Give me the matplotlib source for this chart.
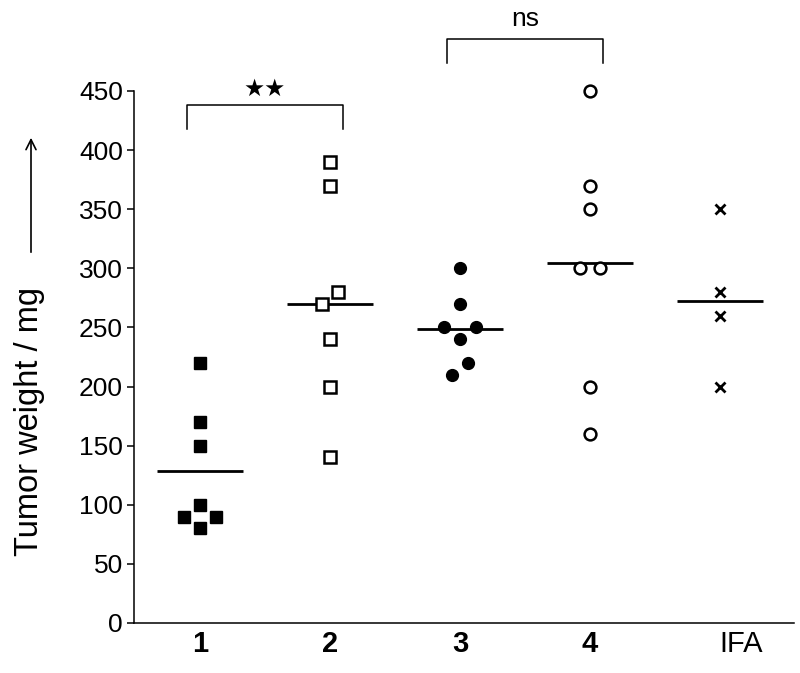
import numpy as np
import matplotlib.pyplot as plt
from matplotlib.patches import FancyArrowPatch
from matplotlib.transforms import ScaledTranslation

plt.rcParams['font.family'] = ['Liberation Sans', 'DejaVu Sans']

# data
groups = ['1', '2', '3', '4', 'IFA']
weights_1 = [220, 170, 150, 100, 90, 90, 80]
weights_2 = [390, 370, 280, 270, 240, 200, 140]
weights_3 = [300, 270, 250, 250, 240, 220, 210]
weights_4 = [450, 370, 350, 300, 300, 200, 160]
weights_ifa = [350, 280, 260, 200]
yticks = list(range(0, 451, 50))
# (left group, right group, label, bracket level in mg)
comparisons = [(0, 1, '★★', 438), (2, 3, 'ns', 494)]

all_weights = [weights_1, weights_2, weights_3, weights_4, weights_ifa]
styles = [
    dict(marker='s', ms=8, mfc='black', mec='black', mew=1),
    dict(marker='s', ms=8.5, mfc='white', mec='black', mew=1.8),
    dict(marker='o', ms=8.5, mfc='black', mec='black', mew=1),
    dict(marker='o', ms=8.5, mfc='white', mec='black', mew=1.8),
    dict(marker='x', ms=7.5, mfc='none', mec='black', mew=2),
]


def swarm(ax, pos, values, dist=20.0):
    """Beeswarm offsets in pixel space, lowest value first, clusters re-centred."""
    pts = ax.transData.transform(np.column_stack([np.full(len(values), pos), values]))
    x0 = pts[0, 0]
    ys = pts[:, 1]
    offs = np.zeros(len(values))
    placed = []
    for i in np.argsort(values, kind='stable'):
        cands = [0.0]
        for j in placed:
            dy = abs(ys[j] - ys[i])
            if dy < dist:
                dx = np.sqrt(dist ** 2 - dy ** 2)
                cands += [offs[j] + dx, offs[j] - dx]
        cands.sort(key=lambda c: (round(abs(c), 6), -c))
        for c in cands:
            if all(np.hypot(c - offs[j], ys[i] - ys[j]) >= dist - 1e-6 for j in placed):
                break
        offs[i] = c
        placed.append(i)

    # group touching points and centre each group on the column
    labels = list(range(len(values)))

    def find(a):
        while labels[a] != a:
            a = labels[a]
        return a

    for a in range(len(values)):
        for b in range(a + 1, len(values)):
            if np.hypot(offs[a] - offs[b], ys[a] - ys[b]) <= dist + 0.5:
                labels[find(a)] = find(b)
    roots = np.array([find(a) for a in range(len(values))])
    for r in set(roots):
        m = roots == r
        offs[m] -= offs[m].mean()

    back = ax.transData.inverted().transform(np.column_stack([x0 + offs, ys]))
    return back[:, 0]


fig = plt.figure(figsize=(8.0, 6.73), dpi=100)
ax = fig.add_axes([0.1675, 0.0743, 0.825, 0.7905])
ax.set_xlim(-0.508, 4.57)
ax.set_ylim(0, 450)

for pos, (vals, st) in enumerate(zip(all_weights, styles)):
    xs = swarm(ax, pos, vals)
    ax.plot(xs, vals, ls='none', clip_on=False, zorder=3, **st)
    ax.hlines(np.mean(vals), pos - 0.33, pos + 0.33, color='black', lw=2, zorder=2)

for left, right, text, level in comparisons:
    x1, x2 = left - 0.1, right + 0.1
    ax.plot([x1, x1, x2, x2], [level - 20, level, level, level - 20],
            color='black', lw=1.1, clip_on=False)
    if text == 'ns':
        ax.text((x1 + x2) / 2, level + 17, text, ha='center', va='center',
                fontsize=19, clip_on=False)
    else:
        ax.text((x1 + x2) / 2, level + 14, text, ha='center', va='center',
                fontsize=17, family=['DejaVu Sans'], clip_on=False)

ax.spines['top'].set_visible(False)
ax.spines['right'].set_visible(False)
ax.spines['left'].set_linewidth(1.1)
ax.spines['bottom'].set_linewidth(1.1)

ax.set_yticks(yticks)
ax.tick_params(axis='y', labelsize=19, length=5, width=1.1, pad=3)
ax.set_xticks(range(len(groups)))
ax.set_xticklabels(groups)
ax.tick_params(axis='x', labelsize=21, length=0, pad=5)
for lab in ax.get_xticklabels()[:4]:
    lab.set_fontweight('bold')
ifa = ax.get_xticklabels()[-1]
ifa.set_transform(ifa.get_transform() + ScaledTranslation(15 / 72, 0, fig.dpi_scale_trans))

# y label with an upward arrow above it, as in the original
fig.text(30 / 800, 1 - 421 / 673, 'Tumor weight / mg', rotation=90,
         ha='center', va='center', fontsize=23.5)
fig.patches.append(FancyArrowPatch(
    (31 / 800, 1 - 255 / 673), (31 / 800, 1 - 135 / 673),
    transform=fig.transFigure, arrowstyle='->', mutation_scale=18,
    color='black', lw=1.2))

fig.savefig('out.png', dpi=100)
